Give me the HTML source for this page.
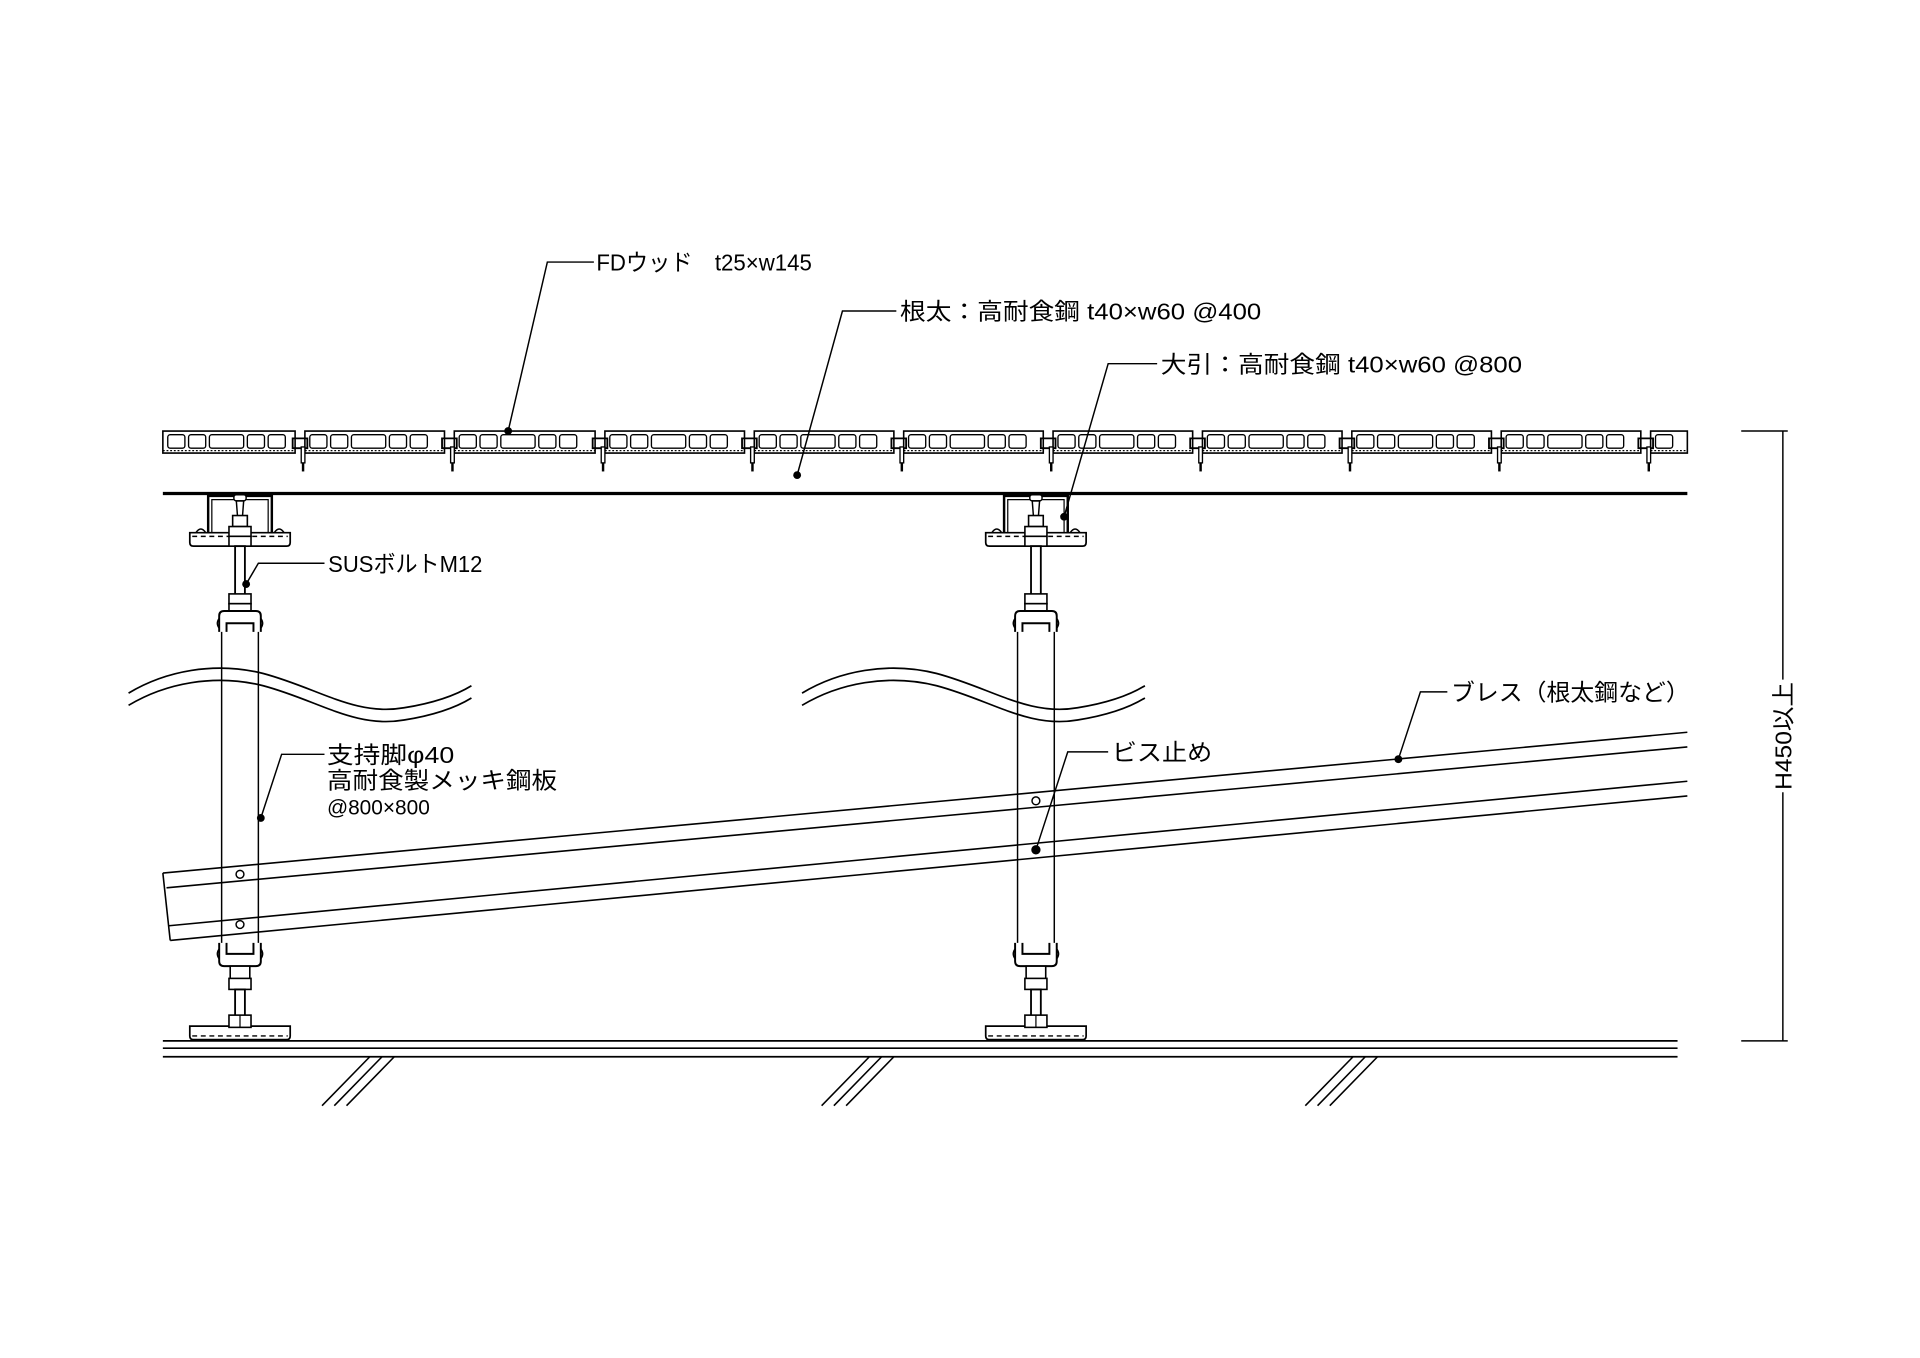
<!DOCTYPE html>
<html><head><meta charset="utf-8">
<style>
html,body{margin:0;padding:0;background:#fff;}
svg{display:block;}
text{font-family:"Liberation Sans Narrow","Liberation Sans","Noto Sans CJK JP",sans-serif;font-size:19px;fill:#000;}
</style></head>
<body>
<svg id="s" width="1920" height="1358" viewBox="0 0 1568 1109" xmlns="http://www.w3.org/2000/svg" fill="none" stroke="#000" stroke-width="1.2">
<line x1="133" y1="403" x2="1378" y2="403" stroke-width="2.6"/>
<line x1="133" y1="850" x2="1370" y2="850" stroke-width="1.4"/>
<line x1="133" y1="856" x2="1370" y2="856" stroke-width="1.4"/>
<line x1="133" y1="863" x2="1370" y2="863" stroke-width="1.4"/>
<g stroke-width="1.3">
<line x1="302" y1="863" x2="263" y2="903"/><line x1="312" y1="863" x2="273" y2="903"/><line x1="322" y1="863" x2="283" y2="903"/>
<line x1="710" y1="863" x2="671" y2="903"/><line x1="720" y1="863" x2="681" y2="903"/><line x1="730" y1="863" x2="691" y2="903"/>
<line x1="1105" y1="863" x2="1066" y2="903"/><line x1="1115" y1="863" x2="1076" y2="903"/><line x1="1125" y1="863" x2="1086" y2="903"/>
</g>
<g id="deck"></g>
<g id="legs"></g>
<g stroke-width="1.3">
<line x1="133" y1="713" x2="1378" y2="598"/>
<line x1="136" y1="725" x2="1378" y2="610"/>
<line x1="138" y1="756" x2="1378" y2="638"/>
<line x1="139" y1="768" x2="1378" y2="650"/>
<line x1="133" y1="713" x2="139" y2="768"/>
</g>
<g stroke-width="1.4" fill="none">
<path d="M105,566 C135,548 175,540 215,550 C260,562 290,585 330,578 C355,574 372,568 385,560"/>
<path d="M105,576 C135,558 175,550 215,560 C260,572 290,595 330,588 C355,584 372,578 385,570"/>
<path d="M655,566 C685,548 725,540 765,550 C810,562 840,585 880,578 C905,574 922,568 935,560"/>
<path d="M655,576 C685,558 725,550 765,560 C810,572 840,595 880,588 C905,584 922,578 935,570"/>
</g>
<g stroke-width="1.2">
<line x1="1422" y1="352" x2="1460" y2="352"/>
<line x1="1422" y1="850" x2="1460" y2="850"/>
<line x1="1456" y1="352" x2="1456" y2="850"/>
</g>
<rect x="1446" y="555" width="20" height="92" fill="#fff" stroke="none"/>
<text transform="translate(1463,645) rotate(-90)" textLength="88" lengthAdjust="spacingAndGlyphs" stroke="none">H450以上</text>
<g stroke-width="1.2">
<polyline points="485,214 447,214 415,352"/>
<polyline points="732,254 688,254 651,388"/>
<polyline points="945,297 905,297 869,422"/>
<polyline points="265,460 211,460 201,477"/>
<polyline points="265,616 230,616 213,668"/>
<polyline points="905,614 872,614 846,694"/>
<polyline points="1182,565 1160,565 1142,620"/>
</g>
<g fill="#000" stroke="none">
<circle cx="415" cy="352" r="3.2"/><circle cx="651" cy="388" r="3.2"/><circle cx="869" cy="422" r="3.2"/>
<circle cx="201" cy="477" r="3.2"/><circle cx="213" cy="668" r="3.2"/><circle cx="846" cy="694" r="3.2"/>
<circle cx="1142" cy="620" r="3.2"/>
</g>
<g stroke="none">
<text x="487" y="221" textLength="176" lengthAdjust="spacingAndGlyphs">FDウッド　t25×w145</text>
<text x="735" y="261" textLength="295" lengthAdjust="spacingAndGlyphs">根太：高耐食鋼 t40×w60 @400</text>
<text x="948" y="304" textLength="295" lengthAdjust="spacingAndGlyphs">大引：高耐食鋼 t40×w60 @800</text>
<text x="268" y="467" textLength="126" lengthAdjust="spacingAndGlyphs">SUSボルトM12</text>
<text x="267" y="623" textLength="104" lengthAdjust="spacingAndGlyphs">支持脚φ40</text>
<text x="267" y="644" textLength="188" lengthAdjust="spacingAndGlyphs">高耐食製メッキ鋼板</text>
<text x="267" y="665" textLength="84" lengthAdjust="spacingAndGlyphs" style="font-size:17px">@800×800</text>
<text x="908" y="621" textLength="82" lengthAdjust="spacingAndGlyphs">ビス止め</text>
<text x="1185" y="572" textLength="195" lengthAdjust="spacingAndGlyphs">ブレス（根太鋼など）</text>
</g>
</svg>
<script>
var NS="http://www.w3.org/2000/svg";
function el(p,t,a){var e=document.createElementNS(NS,t);for(var k in a)e.setAttribute(k,a[k]);p.appendChild(e);return e;}
var deck=document.getElementById("deck");
var joints=[245,367,490,612,734,856,978,1100,1222,1344];
var edges=[133].concat(joints).concat([1378]);
for(var i=0;i<edges.length-1;i++){
  var x0=edges[i]+(i==0?0:4), x1=edges[i+1]-(i==edges.length-2?0:4);
  el(deck,"path",{d:"M"+x0+",352 L"+x1+",352 L"+x1+",370 L"+x0+",370 Z","stroke-width":"1.3"});
  el(deck,"line",{x1:x0,y1:368,x2:x1,y2:368,"stroke-dasharray":"1.5,1.5","stroke-width":"1"});
  var pat=[14,14,28,14,14,14,14,28,14],x=x0+4,j=0;
  while(true){var w=pat[j%pat.length];if(x+w>x1-3)break;
    el(deck,"rect",{x:x,y:355,width:w,height:11,rx:2,"stroke-width":"1.1"});x+=w+3;j++;}
}
joints.forEach(function(jx){
  el(deck,"path",{d:"M"+(jx-6)+",358 L"+(jx+6)+",358 L"+(jx+6)+",366 L"+(jx-6)+",366 Z","stroke-width":"1.5"});
  el(deck,"rect",{x:jx+1,y:365,width:3,height:13,fill:"#fff","stroke-width":"1.1"});
  el(deck,"line",{x1:jx+2.5,y1:378,x2:jx+2.5,y2:385,"stroke-width":"2"});
});
var legs=document.getElementById("legs");
[[196,714,755],[846,654,694]].forEach(function(L){
  var g=el(legs,"g",{transform:"translate("+L[0]+",0)"});
  el(g,"path",{d:"M-26,437 L-26,405 L26,405 L26,437","stroke-width":"2"});
  el(g,"path",{d:"M-23,437 L-23,408 L23,408 L23,437","stroke-width":"1"});
  el(g,"rect",{x:-5,y:404,width:10,height:5,rx:2,fill:"#fff","stroke-width":"1.2"});
  el(g,"path",{d:"M-3,409 L3,409 L2,422 L0,426 L-2,422 Z","stroke-width":"1.2"});
  el(g,"path",{d:"M-41,435 L41,435 L41,443 Q41,446 38,446 L-38,446 Q-41,446 -41,443 Z",fill:"#fff","stroke-width":"1.4"});
  el(g,"line",{x1:-39,y1:438,x2:39,y2:438,"stroke-dasharray":"4,3","stroke-width":"1.2"});
  el(g,"path",{d:"M-36,435 Q-32,429 -28,435","stroke-width":"1.2"});
  el(g,"path",{d:"M28,435 Q32,429 36,435","stroke-width":"1.2"});
  el(g,"rect",{x:-6,y:421,width:12,height:9,fill:"#fff","stroke-width":"1.3"});
  el(g,"rect",{x:-9,y:430,width:18,height:8,fill:"#fff","stroke-width":"1.3"});
  el(g,"rect",{x:-9,y:438,width:18,height:8,fill:"#fff","stroke-width":"1.3"});
  el(g,"rect",{x:-4,y:446,width:8,height:40,"stroke-width":"1.5"});
  el(g,"rect",{x:-9,y:485,width:18,height:8,fill:"#fff","stroke-width":"1.3"});
  el(g,"rect",{x:-9,y:493,width:18,height:6,fill:"#fff","stroke-width":"1.3"});
  el(g,"path",{d:"M-17,516 L-17,503 Q-17,499 -13,499 L13,499 Q17,499 17,503 L17,516 M-11,516 L-11,509 L11,509 L11,516","stroke-width":"1.6"});
  el(g,"path",{d:"M-17,505 Q-20,509 -17,513 M17,505 Q20,509 17,513","stroke-width":"1.2"});
  el(g,"line",{x1:-15,y1:516,x2:-15,y2:770,"stroke-width":"1.2"});
  el(g,"line",{x1:15,y1:516,x2:15,y2:770,"stroke-width":"1.2"});
  el(g,"path",{d:"M-11,770 L-11,779 L11,779 L11,770 M-17,770 L-17,785 Q-17,789 -13,789 L13,789 Q17,789 17,785 L17,770","stroke-width":"1.6"});
  el(g,"path",{d:"M-17,775 Q-20,779 -17,783 M17,775 Q20,779 17,783","stroke-width":"1.2"});
  el(g,"rect",{x:-8,y:789,width:16,height:11,fill:"#fff","stroke-width":"1.3"});
  el(g,"rect",{x:-9,y:799,width:18,height:9,fill:"#fff","stroke-width":"1.3"});
  el(g,"rect",{x:-4,y:808,width:8,height:30,"stroke-width":"1.5"});
  el(g,"path",{d:"M-41,838 L41,838 L41,846 Q41,849 38,849 L-38,849 Q-41,849 -41,846 Z",fill:"#fff","stroke-width":"1.4"});
  el(g,"line",{x1:-39,y1:846,x2:39,y2:846,"stroke-dasharray":"4,3","stroke-width":"1.2"});
  el(g,"rect",{x:-9,y:829,width:18,height:10,fill:"#fff","stroke-width":"1.3"});
  el(g,"line",{x1:0,y1:829,x2:0,y2:839,"stroke-width":"1"});
  el(g,"circle",{cx:0,cy:L[1],r:3.2,"stroke-width":"1.2"});
  el(g,"circle",{cx:0,cy:L[2],r:3.2,"stroke-width":"1.2"});
});
</script>
</body></html>
